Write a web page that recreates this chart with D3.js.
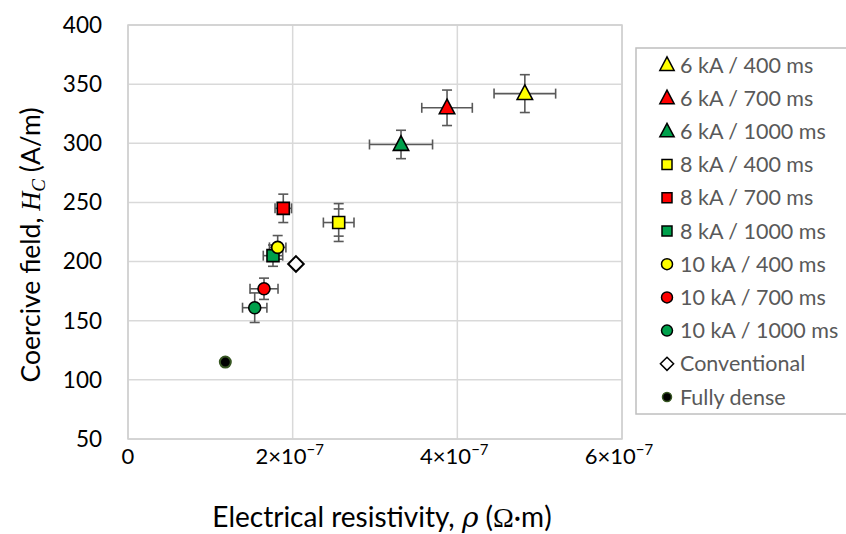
<!DOCTYPE html>
<html>
<head>
<meta charset="utf-8">
<script src="https://cdn.jsdelivr.net/npm/d3@7"></script>
<style>
  html, body { margin: 0; padding: 0; background: #fff; }
  svg { display: block; }
</style>
</head>
<body>
<svg id="chart" width="846" height="534"></svg>
<script>
// ---- data ----
const seriesNames = ["6 kA / 400 ms","6 kA / 700 ms","6 kA / 1000 ms","8 kA / 400 ms","8 kA / 700 ms","8 kA / 1000 ms","10 kA / 400 ms","10 kA / 700 ms","10 kA / 1000 ms","Conventional","Fully dense"];
const resistivity = [4.82e-7, 3.875e-7, 3.316e-7, 2.559e-7, 1.886e-7, 1.761e-7, 1.818e-7, 1.652e-7, 1.539e-7, 2.04e-7, 1.182e-7];
const coercive =    [342, 330, 299, 233, 245, 205, 212, 177, 161, 198, 115];
const resistivityErr = [0.374e-7, 0.307e-7, 0.383e-7, 0.186e-7, 0.10e-7, 0.118e-7, 0.10e-7, 0.17e-7, 0.148e-7, 0, 0];
const coerciveErr =    [16, 15, 12, 16, 12, 9, 10, 9, 12.5, 0, 2];
const coerciveErrInner = [0, 0, 0, 11.5, 0, 0, 0, 0, 0, 0, 0];
const shapes = ["triangle","triangle","triangle","square","square","square","circle","circle","circle","diamond","circle"];
const fills = ["#ffff00","#ff0000","#00a04b","#ffff00","#ff0000","#00a04b","#ffff00","#ff0000","#00a04b","#ffffff","#000000"];
const strokes = ["#000","#000","#000","#000","#000","#000","#000","#000","#000","#000","#385723"];
const xTicks = [0, 2e-7, 4e-7, 6e-7];
const xTickLabels = [["0",""],["2×10","−7"],["4×10","−7"],["6×10","−7"]];
const yTicks = [50,100,150,200,250,300,350,400];

// ---- layout ----
const svg = d3.select("#chart");
const L = 128, R = 622, T = 25, B = 439;
const x = d3.scaleLinear().domain([0, 6e-7]).range([L, R]);
const y = d3.scaleLinear().domain([50, 400]).range([B, T]);
const fontTxt = "Lato, 'Open Sans', sans-serif";

// gridlines
const grid = svg.append("g");
grid.selectAll("line.h").data(yTicks).join("line")
  .attr("x1", L).attr("x2", R).attr("y1", d => y(d)).attr("y2", d => y(d))
  .attr("stroke", "#d9d9d9").attr("stroke-width", 1.5);
grid.selectAll("line.v").data(xTicks).join("line")
  .attr("y1", T).attr("y2", B).attr("x1", d => x(d)).attr("x2", d => x(d))
  .attr("stroke", "#d9d9d9").attr("stroke-width", 1.5);
svg.append("rect").attr("x", L).attr("y", T).attr("width", R - L).attr("height", B - T)
  .attr("fill", "none").attr("stroke", "#d0d0d0").attr("stroke-width", 1.5);

// y tick labels
svg.append("g").selectAll("text").data(yTicks).join("text")
  .attr("x", 102).attr("y", d => y(d)).attr("dy", "0.35em")
  .attr("text-anchor", "end").attr("font-family", fontTxt).attr("font-size", 22.5)
  .attr("fill", "#000").text(d => d);

// x tick labels
const xt = svg.append("g").selectAll("text").data(xTicks).join("text")
  .attr("x", (d, i) => x(d) + (i === 0 ? 0 : -3)).attr("y", 464)
  .attr("text-anchor", "middle").attr("font-family", fontTxt).attr("font-size", 22).attr("fill", "#000");
xt.append("tspan").text((d, i) => xTickLabels[i][0]);
xt.append("tspan").attr("dy", -9).attr("font-size", 15).text((d, i) => xTickLabels[i][1]);

// axis titles
const xTitle = svg.append("text").attr("x", 382).attr("y", 527).attr("text-anchor", "middle")
  .attr("font-family", fontTxt).attr("font-size", 28).attr("fill", "#000");
xTitle.append("tspan").text("Electrical resistivity, ");
xTitle.append("tspan").attr("font-family", "'DejaVu Serif', 'Liberation Serif', serif").attr("font-style", "italic").text("ρ");
xTitle.append("tspan").text(" (");
xTitle.append("tspan").attr("font-family", "'Liberation Serif', serif").text("Ω");
xTitle.append("tspan").text("·m)");

const yTitle = svg.append("text").attr("transform", "translate(40,245) rotate(-90)").attr("text-anchor", "middle")
  .attr("font-family", fontTxt).attr("font-size", 26.5).attr("fill", "#000");
yTitle.append("tspan").text("Coercive field, ");
yTitle.append("tspan").attr("font-family", "'Liberation Serif', serif").attr("font-style", "italic").text("H");
yTitle.append("tspan").attr("font-family", "'Liberation Serif', serif").attr("font-style", "italic")
  .attr("font-size", 19).attr("dy", 5).text("C");
yTitle.append("tspan").attr("dy", -5).text(" (A/m)");

// marker path generator
function markerPath(shape, s) {
  if (shape === "triangle") return `M0,${-s*0.62}L${s*0.55},${s*0.42}L${-s*0.55},${s*0.42}Z`;
  if (shape === "square") return `M${-s/2},${-s/2}h${s}v${s}h${-s}Z`;
  if (shape === "diamond") return `M0,${-s*0.6}L${s*0.6},0L0,${s*0.6}L${-s*0.6},0Z`;
  const r = s / 2;
  return `M${r},0A${r},${r} 0 1,1 ${-r},0A${r},${r} 0 1,1 ${r},0Z`;
}
const markerSize = { triangle: 14, square: 12, circle: 12, diamond: 13 };

const idx = d3.range(seriesNames.length);

// error bars
const eb = svg.append("g").attr("stroke", "#595959").attr("stroke-width", 1.6).attr("fill", "none");
const cap = 5;
idx.forEach(i => {
  const cx = x(resistivity[i]), cy = y(coercive[i]);
  const g = eb.append("g");
  if (resistivityErr[i] > 0) {
    const x0 = x(resistivity[i] - resistivityErr[i]), x1 = x(resistivity[i] + resistivityErr[i]);
    g.append("line").attr("x1", x0).attr("x2", x1).attr("y1", cy).attr("y2", cy);
    g.append("line").attr("x1", x0).attr("x2", x0).attr("y1", cy - cap).attr("y2", cy + cap);
    g.append("line").attr("x1", x1).attr("x2", x1).attr("y1", cy - cap).attr("y2", cy + cap);
  }
  if (coerciveErr[i] > 0) {
    const y0 = y(coercive[i] - coerciveErr[i]), y1 = y(coercive[i] + coerciveErr[i]);
    g.append("line").attr("x1", cx).attr("x2", cx).attr("y1", y0).attr("y2", y1);
    g.append("line").attr("x1", cx - cap).attr("x2", cx + cap).attr("y1", y0).attr("y2", y0);
    g.append("line").attr("x1", cx - cap).attr("x2", cx + cap).attr("y1", y1).attr("y2", y1);
  }
  if (coerciveErrInner[i] > 0) {
    const y0 = y(coercive[i] - coerciveErrInner[i]), y1 = y(coercive[i] + coerciveErrInner[i]);
    g.append("line").attr("x1", cx - cap).attr("x2", cx + cap).attr("y1", y0).attr("y2", y0);
    g.append("line").attr("x1", cx - cap).attr("x2", cx + cap).attr("y1", y1).attr("y2", y1);
  }
});

// markers
svg.append("g").selectAll("path").data(idx).join("path")
  .attr("transform", i => `translate(${x(resistivity[i])},${y(coercive[i])})`)
  .attr("d", i => markerPath(shapes[i], i === 10 ? 11 : markerSize[shapes[i]]))
  .attr("fill", i => fills[i]).attr("stroke", i => strokes[i]).attr("stroke-width", i => i === 10 ? 2 : (i === 9 ? 2 : 1.6));

// legend
const lg = svg.append("g");
lg.append("rect").attr("x", 636).attr("y", 48).attr("width", 220).attr("height", 366)
  .attr("fill", "#fff").attr("stroke", "#bfbfbf").attr("stroke-width", 1.5);
const legendY0 = 65, legendStep = 33.2;
const items = lg.selectAll("g.item").data(idx).join("g")
  .attr("transform", i => `translate(0,${legendY0 + i * legendStep})`);
items.append("path")
  .attr("transform", "translate(667,0)")
  .attr("d", i => markerPath(shapes[i], i === 10 ? 9 : (shapes[i] === "triangle" ? 13 : (shapes[i] === "square" ? 10 : 11))))
  .attr("fill", i => fills[i]).attr("stroke", i => strokes[i]).attr("stroke-width", 1.5);
items.append("text").attr("x", 680).attr("y", 0).attr("dy", "0.35em")
  .attr("font-family", fontTxt).attr("font-size", 21.5).attr("fill", "#595959")
  .text(i => seriesNames[i]);
</script>
</body>
</html>
